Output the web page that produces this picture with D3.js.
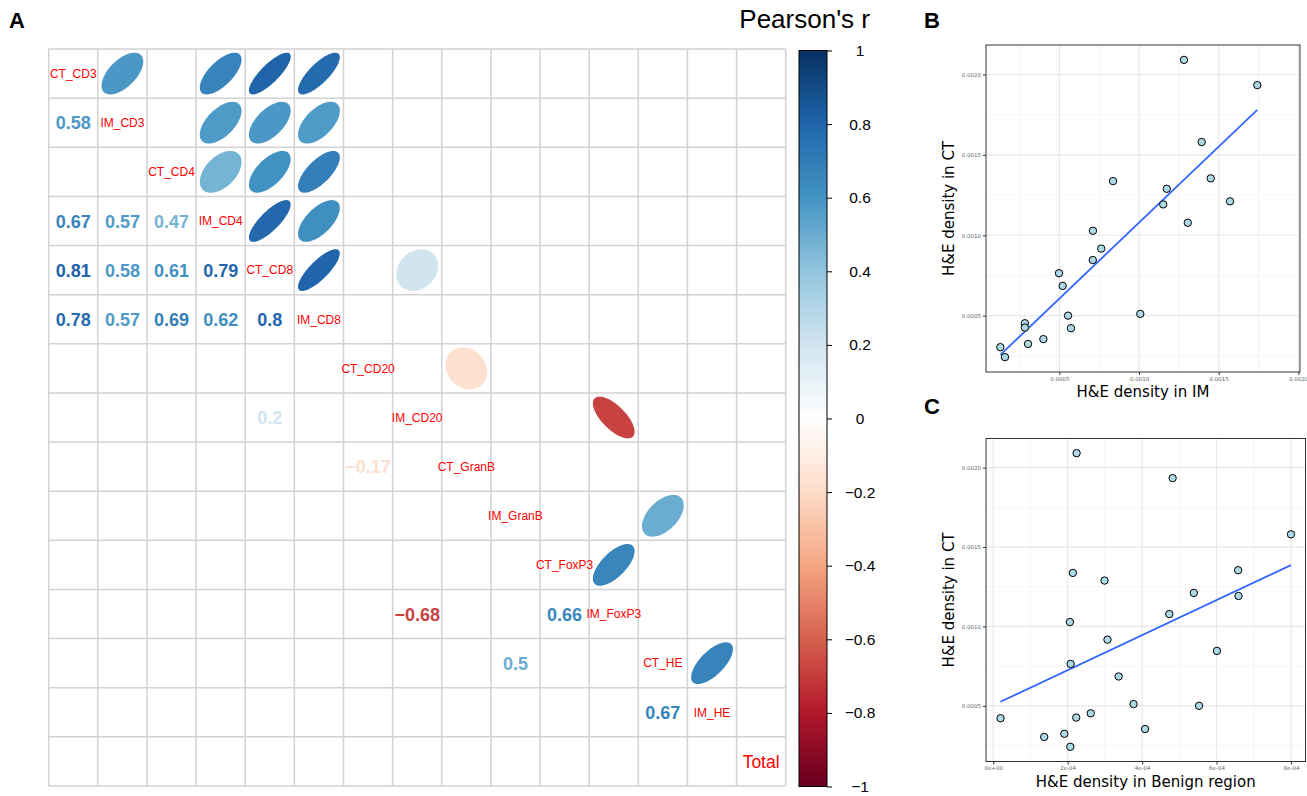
<!DOCTYPE html>
<html>
<head>
<meta charset="utf-8">
<script src="https://cdn.jsdelivr.net/npm/d3@7"></script>
<style>
  html, body { margin: 0; padding: 0; background: #fff; }
  svg { display: block; }
  .corr-label { font-family: "Liberation Sans", Arial, sans-serif; fill: #ff0000; }
  .corr-value { font-family: "Liberation Sans", Arial, sans-serif; font-weight: bold; }
  .legend-axis text { font-family: "Liberation Sans", Arial, sans-serif; font-size: 15.5px; fill: #000; }
  .legend-axis line { stroke: #000; }
  .legend-axis .domain { display: none; }
  .panel-tag { font-family: "Liberation Sans", Arial, sans-serif; font-weight: bold; font-size: 22px; }
  .sc-axis text { font-family: "DejaVu Sans", sans-serif; font-size: 5.5px; fill: #666; }
  .sc-axis line { stroke: #333; }
  .sc-axis .domain { display: none; }
  .sc-title { font-family: "DejaVu Sans", sans-serif; font-size: 15px; fill: #000; }
</style>
</head>
<body>
<svg id="chart" width="1307" height="796"></svg>
<script>
// variables on the corrplot diagonal
const variables = ['CT_CD3', 'IM_CD3', 'CT_CD4', 'IM_CD4', 'CT_CD8', 'IM_CD8', 'CT_CD20', 'IM_CD20',
  'CT_GranB', 'IM_GranB', 'CT_FoxP3', 'IM_FoxP3', 'CT_HE', 'IM_HE', 'Total'];

// significant correlations only (blank cells are not significant)
const sigPairs = [
  ['CT_CD3', 'IM_CD3', 0.58], ['CT_CD3', 'IM_CD4', 0.67], ['CT_CD3', 'CT_CD8', 0.81], ['CT_CD3', 'IM_CD8', 0.78],
  ['IM_CD3', 'IM_CD4', 0.57], ['IM_CD3', 'CT_CD8', 0.58], ['IM_CD3', 'IM_CD8', 0.57],
  ['CT_CD4', 'IM_CD4', 0.47], ['CT_CD4', 'CT_CD8', 0.61], ['CT_CD4', 'IM_CD8', 0.69],
  ['IM_CD4', 'CT_CD8', 0.79], ['IM_CD4', 'IM_CD8', 0.62],
  ['CT_CD8', 'IM_CD8', 0.80], ['CT_CD8', 'IM_CD20', 0.20],
  ['CT_CD20', 'CT_GranB', -0.17],
  ['IM_CD20', 'IM_FoxP3', -0.68],
  ['IM_GranB', 'CT_HE', 0.50],
  ['CT_FoxP3', 'IM_FoxP3', 0.66],
  ['CT_HE', 'IM_HE', 0.67],
];

// RdBu palette (corrplot COL2)
const paletteStops = ['#67001F', '#B2182B', '#D6604D', '#F4A582', '#FDDBC7', '#FFFFFF',
  '#D1E5F0', '#92C5DE', '#4393C3', '#2166AC', '#053061'];
const legendTicks = [-1, -0.8, -0.6, -0.4, -0.2, 0, 0.2, 0.4, 0.6, 0.8, 1];

// H&E density per patient
const heIM = [0.000130, 0.000159, 0.000284, 0.000284, 0.000304, 0.000400, 0.000498, 0.000521, 0.000555, 0.000573,
  0.000711, 0.000710, 0.000763, 0.000837, 0.001008, 0.001152, 0.001174, 0.001282, 0.001306, 0.001393,
  0.001450, 0.001571, 0.001742];
const heCT = [0.000304, 0.000242, 0.000453, 0.000426, 0.000324, 0.000354, 0.000764, 0.000685, 0.000500, 0.000422,
  0.001028, 0.000846, 0.000917, 0.001337, 0.000511, 0.001192, 0.001289, 0.002091, 0.001078, 0.001580,
  0.001354, 0.001211, 0.001934];
const heBenign = [0.000137, 0.000207, 0.000262, 0.000223, 0.000191, 0.000408, 0.000208, 0.000337, 0.000553, 0.0000196,
  0.000206, 0.000601, 0.000307, 0.000214, 0.000377, 0.000659, 0.000299, 0.000224, 0.000473, 0.000800,
  0.000658, 0.000539, 0.000482];

const imLimits = [0.00004, 0.00201];
const ctTicks = [0.0005, 0.0010, 0.0015, 0.0020];
const imTicks = [0.0005, 0.0010, 0.0015, 0.0020];
const benignTicks = [0, 0.0002, 0.0004, 0.0006, 0.0008];

const svg = d3.select('#chart');
svg.append('rect').attr('width', 1307).attr('height', 796).attr('fill', '#fff');

const colorScale = d3.scaleLinear()
  .domain(d3.range(paletteStops.length).map((i) => -1 + (2 * i) / (paletteStops.length - 1)))
  .range(paletteStops)
  .interpolate(d3.interpolateRgb);

// ---------- panel A: correlation matrix ----------
const xBand = d3.scaleBand().domain(variables).range([48.7, 785.7]);
const yBand = d3.scaleBand().domain(variables).range([49, 786]);
const cell = xBand.bandwidth();

const gridG = svg.append('g').attr('stroke', '#d2d2d2').attr('stroke-width', 1.5);
variables.concat([null]).forEach((v) => {
  const x = v ? xBand(v) : xBand.range()[1];
  const y = v ? yBand(v) : yBand.range()[1];
  gridG.append('line').attr('x1', x).attr('x2', x).attr('y1', yBand.range()[0]).attr('y2', yBand.range()[1]);
  gridG.append('line').attr('y1', y).attr('y2', y).attr('x1', xBand.range()[0]).attr('x2', xBand.range()[1]);
});

const ellipseLine = d3.line().curve(d3.curveLinearClosed);
function ellipsePoints(r, cx, cy) {
  const a = Math.acos(r);
  return d3.range(99).map((i) => {
    const k = (2 * Math.PI * i) / 98;
    return [cx + (cell * 0.85 * Math.cos(k + a / 2)) / 2, cy - (cell * 0.85 * Math.cos(k - a / 2)) / 2];
  });
}

const fmt = d3.format('.2~f');
const cellsG = svg.append('g');
sigPairs.forEach(([a, b, r]) => {
  // upper triangle: ellipse
  const cx = xBand(b) + cell / 2;
  const cy = yBand(a) + yBand.bandwidth() / 2;
  cellsG.append('path').attr('d', ellipseLine(ellipsePoints(r, cx, cy))).attr('fill', colorScale(r));
  // lower triangle: coefficient
  cellsG.append('text')
    .attr('class', 'corr-value')
    .attr('x', xBand(a) + cell / 2)
    .attr('y', yBand(b) + yBand.bandwidth() / 2)
    .attr('dy', '0.37em')
    .attr('text-anchor', 'middle')
    .attr('font-size', 18)
    .attr('fill', colorScale(r))
    .text(fmt(r));
});

svg.append('g').selectAll('text').data(variables).join('text')
  .attr('class', 'corr-label')
  .attr('x', (d) => xBand(d) + cell / 2)
  .attr('y', (d) => yBand(d) + yBand.bandwidth() / 2)
  .attr('dy', '0.36em')
  .attr('text-anchor', 'middle')
  .attr('font-size', (d) => (d === 'Total' ? 17.5 : 12))
  .text((d) => d);

// colour legend
const legendX = 799;
const legendW = 28;
const legendScale = d3.scaleLinear().domain([-1, 1]).range([786.5, 50.5]);
const grad = svg.append('defs').append('linearGradient').attr('id', 'rdbu')
  .attr('x1', 0).attr('y1', 1).attr('x2', 0).attr('y2', 0);
paletteStops.forEach((c, i) => {
  grad.append('stop').attr('offset', i / (paletteStops.length - 1)).attr('stop-color', c);
});
svg.append('rect')
  .attr('x', legendX).attr('y', legendScale(1))
  .attr('width', legendW).attr('height', legendScale(-1) - legendScale(1))
  .attr('fill', 'url(#rdbu)').attr('stroke', '#000').attr('stroke-width', 1);
const legendAxis = svg.append('g')
  .attr('class', 'legend-axis')
  .attr('transform', `translate(${legendX + legendW}, 0)`)
  .call(d3.axisRight(legendScale).tickValues(legendTicks).tickFormat(d3.format('~g')).tickSize(5).tickSizeOuter(0));
legendAxis.selectAll('text').attr('x', 33).attr('text-anchor', 'middle');
svg.append('text')
  .attr('x', 870).attr('y', 28)
  .attr('text-anchor', 'end')
  .attr('font-family', '"Liberation Sans", Arial, sans-serif')
  .attr('font-size', 26)
  .text("Pearson's r");

svg.append('text').attr('class', 'panel-tag').attr('x', 9).attr('y', 28).text('A');
svg.append('text').attr('class', 'panel-tag').attr('x', 924).attr('y', 28).text('B');
svg.append('text').attr('class', 'panel-tag').attr('x', 924).attr('y', 414).text('C');

// ---------- panels B and C: scatter with lm fit ----------
function expand(extent) {
  const pad = (extent[1] - extent[0]) * 0.05;
  return [extent[0] - pad, extent[1] + pad];
}

function scatterPanel(opts) {
  const { xs, ys, xDomain, xTicks, xFormat, box, xTitle, yTitle } = opts;
  const g = svg.append('g');
  const x = d3.scaleLinear().domain(xDomain).range([box.left, box.right]);
  const y = d3.scaleLinear().domain(expand(d3.extent(ys))).range([box.bottom, box.top]);

  const xStep = xTicks[1] - xTicks[0];
  const yStep = ctTicks[1] - ctTicks[0];
  const xMinor = d3.range(xTicks[0] - xStep / 2, xDomain[1], xStep).filter((v) => v > xDomain[0]);
  const yMinor = d3.range(ctTicks[0] - yStep / 2, y.domain()[1], yStep).filter((v) => v > y.domain()[0]);

  g.selectAll('.minor-x').data(xMinor).join('line')
    .attr('x1', (d) => x(d)).attr('x2', (d) => x(d)).attr('y1', box.top).attr('y2', box.bottom)
    .attr('stroke', '#f2f2f2').attr('stroke-width', 0.8);
  g.selectAll('.minor-y').data(yMinor).join('line')
    .attr('y1', (d) => y(d)).attr('y2', (d) => y(d)).attr('x1', box.left).attr('x2', box.right)
    .attr('stroke', '#f2f2f2').attr('stroke-width', 0.8);
  g.selectAll('.major-x').data(xTicks.filter((v) => v >= xDomain[0] && v <= xDomain[1])).join('line')
    .attr('x1', (d) => x(d)).attr('x2', (d) => x(d)).attr('y1', box.top).attr('y2', box.bottom)
    .attr('stroke', '#e8e8e8').attr('stroke-width', 1.2);
  g.selectAll('.major-y').data(ctTicks).join('line')
    .attr('y1', (d) => y(d)).attr('y2', (d) => y(d)).attr('x1', box.left).attr('x2', box.right)
    .attr('stroke', '#e8e8e8').attr('stroke-width', 1.2);

  // least squares fit (geom_smooth method = "lm")
  const mx = d3.mean(xs);
  const my = d3.mean(ys);
  const slope = d3.sum(xs, (v, i) => (v - mx) * (ys[i] - my)) / d3.sum(xs, (v) => (v - mx) ** 2);
  const icpt = my - slope * mx;
  const xr = d3.extent(xs);
  g.append('path')
    .attr('d', d3.line()(xr.map((v) => [x(v), y(icpt + slope * v)])))
    .attr('stroke', '#3366FF').attr('stroke-width', 1.8).attr('fill', 'none');

  g.selectAll('circle').data(xs).join('circle')
    .attr('cx', (d) => x(d)).attr('cy', (d, i) => y(ys[i]))
    .attr('r', 3.7)
    .attr('fill', '#ADD8E6').attr('stroke', '#000').attr('stroke-width', 1);

  g.append('rect')
    .attr('x', box.left).attr('y', box.top)
    .attr('width', box.right - box.left).attr('height', box.bottom - box.top)
    .attr('fill', 'none').attr('stroke', '#333').attr('stroke-width', 1);

  g.append('g').attr('class', 'sc-axis')
    .attr('transform', `translate(0, ${box.bottom})`)
    .call(d3.axisBottom(x).tickValues(xTicks).tickFormat(xFormat).tickSize(3).tickPadding(2));
  g.append('g').attr('class', 'sc-axis')
    .attr('transform', `translate(${box.left}, 0)`)
    .call(d3.axisLeft(y).tickValues(ctTicks).tickFormat(d3.format('.4f')).tickSize(3).tickPadding(2));

  g.append('text').attr('class', 'sc-title')
    .attr('x', (box.left + box.right) / 2).attr('y', box.bottom + 25)
    .attr('text-anchor', 'middle').text(xTitle);
  g.append('text').attr('class', 'sc-title')
    .attr('transform', `translate(${box.left - 32}, ${(box.top + box.bottom) / 2}) rotate(-90)`)
    .attr('text-anchor', 'middle').text(yTitle);
}

scatterPanel({
  xs: heIM, ys: heCT, xDomain: imLimits, xTicks: imTicks, xFormat: d3.format('.4f'),
  box: { left: 986, right: 1300, top: 45, bottom: 372 },
  xTitle: 'H&E density in IM', yTitle: 'H&E density in CT',
});

const sciFmt = (v) => d3.format('.0e')(v).replace('e-', 'e-0').replace('e+', 'e+0');
scatterPanel({
  xs: heBenign, ys: heCT, xDomain: expand(d3.extent(heBenign)), xTicks: benignTicks, xFormat: sciFmt,
  box: { left: 986, right: 1305.5, top: 438.5, bottom: 761.5 },
  xTitle: 'H&E density in Benign region', yTitle: 'H&E density in CT',
});
</script>
</body>
</html>
